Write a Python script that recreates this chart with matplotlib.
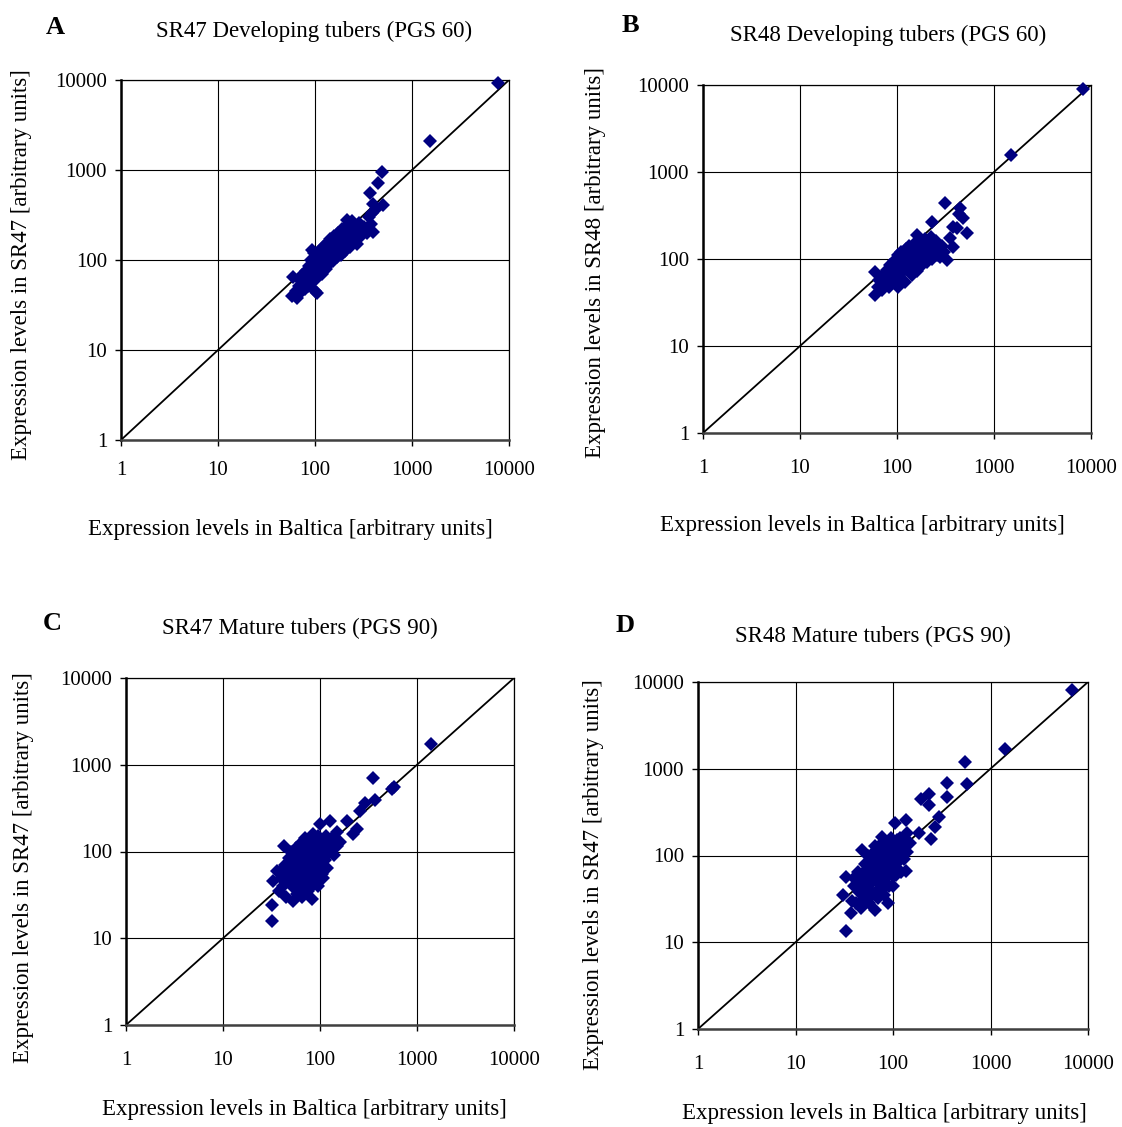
# Expression scatter: Baltica vs SR47/SR48, developing and mature tubers
import matplotlib
matplotlib.use("Agg")
import matplotlib.pyplot as plt

#### -------- data -------- ####
TICKS = [1, 10, 100, 1000, 10000]
TICK_LABELS = ["1", "10", "100", "1000", "10000"]

# A: SR47 developing tubers
a_x = [58, 60, 63, 66, 68, 70, 72, 74, 76, 78, 80, 82, 84, 86, 88, 90, 92, 93, 94, 96,
       98, 100, 100, 103, 105, 105, 107, 110, 112, 114, 116, 118, 120, 123, 126, 129, 132,
       135, 138, 141, 144, 147, 150, 153, 157, 160, 164, 168, 172, 176, 180, 185, 190, 195,
       200, 206, 212, 213, 218, 225, 232, 240, 250, 260, 270, 285, 300, 320, 340, 360, 375,
       395, 370, 390, 400, 425, 447, 487, 504, 1550, 7700,
       75, 85, 95, 105, 115, 125, 135, 145, 155, 165, 175, 185, 195, 210, 230, 250, 120,
       140, 160, 180, 200, 110, 130, 150, 90, 100, 115, 140, 170, 200, 230, 260, 280, 310]
a_y = [40, 64, 45, 38, 52, 60, 44, 68, 55, 48, 75, 60, 52, 85, 66, 58, 100, 129, 72, 62,
       120, 82, 45, 68, 95, 43, 110, 75, 130, 88, 100, 70, 140, 92, 115, 80, 155,
       105, 125, 90, 170, 115, 140, 98, 185, 125, 150, 108, 200, 135, 165, 115, 220, 145,
       180, 125, 240, 278, 160, 195, 140, 270, 175, 210, 150, 255, 185, 230, 200, 300, 250,
       205, 555, 330, 420, 370, 718, 958, 408, 2100, 9200,
       62, 70, 88, 100, 120, 130, 140, 150, 160, 175, 185, 195, 205, 215, 225, 240, 105,
       120, 140, 150, 160, 90, 100, 110, 78, 60, 80, 105, 125, 145, 170, 180, 200, 210]

# B: SR48 developing tubers
b_x = [59, 59, 63, 66, 70, 72, 75, 78, 80, 83, 85, 88, 90, 90, 93, 96, 99, 100, 102, 102,
       105, 108, 110, 111, 114, 117, 120, 120, 123, 126, 130, 130, 133, 137, 140, 140, 144,
       148, 150, 152, 156, 160, 160, 165, 170, 170, 175, 180, 185, 190, 190, 196, 200, 202,
       208, 215, 222, 230, 238, 246, 255, 265, 275, 290, 305, 327, 229, 313, 446, 478, 525,
       378, 378, 420, 440, 350, 1500, 8300,
       75, 85, 95, 105, 115, 125, 135, 145, 155, 165, 175, 185, 195, 205, 215, 225, 240,
       250, 110, 130, 150, 170, 190, 210, 230, 100, 120, 140, 160, 180, 200, 260, 280]
b_y = [39, 71, 48, 58, 44, 66, 52, 75, 60, 48, 85, 68, 56, 80, 95, 75, 62, 95, 48, 110,
       82, 68, 100, 120, 90, 74, 55, 90, 130, 100, 80, 115, 140, 108, 88, 125, 65,
       150, 120, 115, 95, 190, 72, 130, 102, 135, 160, 85, 140, 110, 95, 170, 130, 92,
       150, 120, 180, 100, 140, 115, 160, 125, 105, 140, 120, 98, 266, 440, 385, 297, 199,
       233, 137, 230, 330, 175, 1550, 8900,
       62, 70, 78, 88, 98, 108, 118, 128, 138, 118, 128, 118, 120, 140, 135, 150, 128,
       145, 75, 95, 105, 112, 130, 105, 120, 70, 100, 100, 110, 100, 115, 110, 130]

# C: SR47 mature tubers
c_x = [32, 32, 33, 36, 38, 40, 42, 43, 44, 45, 46, 48, 50, 50, 52, 53, 54, 55, 56, 58,
       58, 60, 60, 62, 63, 64, 65, 66, 68, 70, 70, 72, 73, 75, 76, 78, 80, 80, 82, 84,
       85, 87, 88, 90, 92, 94, 96, 98, 100, 100, 103, 105, 108, 110, 112, 115, 118, 120,
       125, 127, 130, 135, 140, 149, 150, 160, 189, 221, 240, 260, 292, 356, 371, 575, 550,
       1394,
       40, 45, 50, 55, 60, 62, 65, 68, 70, 72, 75, 78, 80, 82, 85, 88, 90, 92, 95, 98,
       100, 105, 110, 115, 120, 58, 52, 48, 66, 74, 86, 104, 130, 110, 96, 84]
c_y = [16, 24, 46, 60, 35, 50, 40, 116, 70, 30, 55, 85, 45, 100, 65, 27, 38, 80, 110, 50,
       32, 95, 65, 42, 125, 75, 55, 30, 90, 145, 62, 45, 105, 75, 35, 120, 58, 90, 28, 70,
       135, 48, 100, 80, 60, 115, 40, 90, 205, 70, 130, 55, 50, 100, 80, 150, 65, 120,
       95, 224, 140, 110, 90, 116, 170, 130, 224, 159, 180, 292, 364, 703, 397, 555, 530,
       1740,
       60, 45, 75, 60, 45, 80, 100, 70, 55, 85, 110, 65, 100, 50, 75, 60, 120, 95, 70, 110,
       85, 120, 90, 110, 100, 70, 55, 65, 40, 50, 42, 75, 115, 140, 150, 160]

# D: SR48 mature tubers (SR47 on the axis label, as in the original)
d_x = [33, 31, 33, 37, 38, 40, 42, 44, 45, 47, 48, 48, 50, 52, 54, 55, 57, 58, 60, 60,
       62, 64, 65, 66, 68, 70, 72, 72, 75, 76, 78, 78, 80, 82, 84, 86, 88, 88, 90, 91,
       93, 95, 98, 100, 102, 105, 106, 110, 112, 115, 120, 125, 130, 135, 135, 140, 150,
       185, 192, 233, 233, 247, 269, 296, 360, 360, 545, 577, 1403, 6850,
       40, 45, 50, 55, 58, 62, 65, 68, 70, 72, 75, 78, 80, 82, 85, 88, 90, 92, 95, 98,
       100, 105, 110, 115, 120, 125, 60, 52, 70, 85, 100, 108, 130, 140, 118, 95, 56, 65]
d_y = [13.6, 35, 57, 22, 30, 45, 28, 65, 38, 25, 117, 52, 32, 80, 42, 60, 28, 95, 48, 70,
       36, 110, 55, 23.5, 80, 40, 130, 62, 48, 95, 165, 70, 35, 110, 55, 80, 28, 140, 62, 45,
       100, 75, 120, 58, 90, 234, 70, 150, 85, 105, 65, 125, 90, 257, 66.5, 110, 140,
       181, 450, 512, 378, 155, 211, 279, 694, 478, 1200, 665, 1700, 8090,
       55, 48, 65, 45, 75, 55, 90, 65, 50, 100, 80, 55, 90, 70, 120, 95, 75, 130, 110, 85,
       100, 120, 95, 130, 110, 100, 38, 38, 32, 45, 45, 60, 150, 180, 160, 160, 100, 130]

#### -------- style -------- ####
W, H = 1122, 1127
plt.rcParams["font.family"] = ["Liberation Serif", "DejaVu Serif"]
plt.rcParams["font.size"] = 15
plt.rcParams["xtick.direction"] = "out"
plt.rcParams["ytick.direction"] = "out"

fig = plt.figure(figsize=(W / 100, H / 100), dpi=100)


def px(x, y):
    return x / W, 1 - y / H


def make_panel(box, xs, ys, letter, letter_xy, title, title_xy, xlabel, xlabel_xy,
               ylabel, ylabel_xy, xpad):
    left, top, right, bottom = box
    ax = fig.add_axes([left / W, 1 - bottom / H, (right - left) / W, (bottom - top) / H])
    ax.set_xscale("log")
    ax.set_yscale("log")
    ax.set_xlim(1, 10000)
    ax.set_ylim(1, 10000)
    ax.set_xticks(TICKS)
    ax.set_xticklabels(TICK_LABELS)
    ax.set_yticks(TICKS)
    ax.set_yticklabels(TICK_LABELS)
    ax.minorticks_off()
    ax.tick_params(axis="both", length=4, width=1, labelsize=15)
    ax.tick_params(axis="x", pad=xpad)
    ax.tick_params(axis="y", pad=6)
    ax.grid(True, color="black", lw=0.8)
    ax.set_axisbelow(True)
    for s in ["top", "right"]:
        ax.spines[s].set_linewidth(0.9)
    ax.spines["left"].set_linewidth(1.8)
    ax.spines["bottom"].set_linewidth(1.8)
    ax.spines["bottom"].set_color("#404040")

    ax.plot([1, 10000], [1, 10000], color="black", lw=1.3, zorder=2)
    ax.plot(xs, ys, linestyle="none", marker="D", ms=7.3, color="#000080",
            markeredgewidth=0, zorder=3, clip_on=False)

    fig.text(*px(*letter_xy), letter, fontsize=19, fontweight="bold",
             ha="center", va="center")
    fig.text(*px(*title_xy), title, fontsize=16.5, ha="center", va="center")
    fig.text(*px(*xlabel_xy), xlabel, fontsize=16.5, ha="center", va="center")
    fig.text(*px(*ylabel_xy), ylabel, fontsize=16.5, ha="center", va="center",
             rotation=90)
    return ax


XL = "Expression levels in Baltica [arbitrary units]"

make_panel((121, 80, 509, 440), a_x, a_y, "A", (55, 27),
           "SR47 Developing tubers (PGS 60)", (314, 31), XL, (290, 530),
           "Expression levels in SR47 [arbitrary units]", (22, 265), 11)
make_panel((703, 85, 1091, 433), b_x, b_y, "B", (630, 26),
           "SR48 Developing tubers (PGS 60)", (888, 35), XL, (862, 525),
           "Expression levels in SR48 [arbitrary units]", (596, 262), 15)
make_panel((126, 678, 514, 1025), c_x, c_y, "C", (52, 623),
           "SR47 Mature tubers (PGS 90)", (300, 628), XL, (304, 1110),
           "Expression levels in SR47 [arbitrary units]", (24, 868), 15)
make_panel((698, 682, 1088, 1029), d_x, d_y, "D", (625, 626),
           "SR48 Mature tubers (PGS 90)", (873, 636), XL, (884, 1114),
           "Expression levels in SR47 [arbitrary units]", (594, 875), 15)

fig.savefig("out.png", dpi=100)
